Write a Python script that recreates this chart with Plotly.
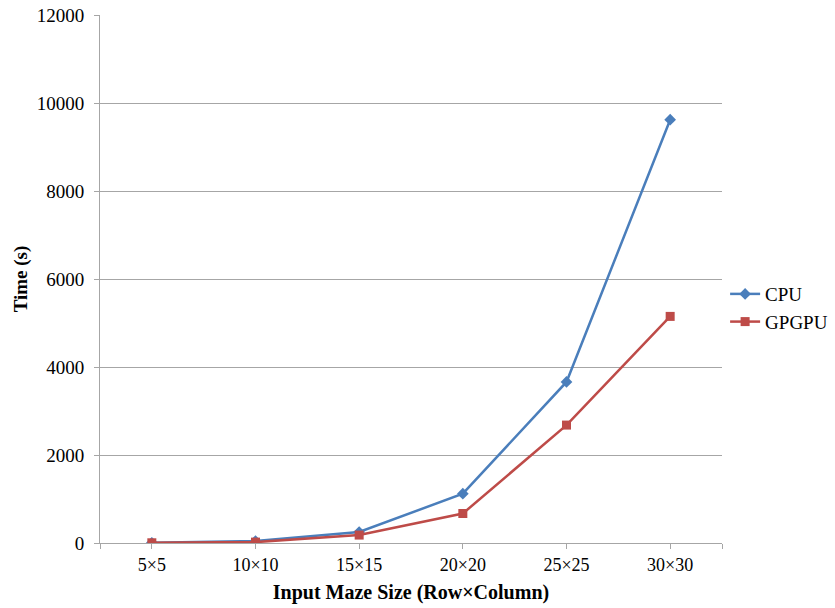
import plotly.graph_objects as go

categories = ["5×5", "10×10", "15×15", "20×20", "25×25", "30×30"]
cpu = [5, 45, 250, 1120, 3660, 9620]
gpgpu = [5, 20, 180, 670, 2680, 5150]
y_ticks = [0, 2000, 4000, 6000, 8000, 10000, 12000]

xpos = list(range(len(categories)))
font = "Liberation Serif, Times New Roman, serif"

fig = go.Figure()
fig.add_trace(go.Scatter(x=xpos, y=cpu, name="CPU", mode="lines+markers",
                         line=dict(color="#4A7EBB", width=2.5),
                         marker=dict(symbol="diamond", size=9, color="#4A7EBB")))
fig.add_trace(go.Scatter(x=xpos, y=gpgpu, name="GPGPU", mode="lines+markers",
                         line=dict(color="#BE4B48", width=2.5),
                         marker=dict(symbol="square", size=9, color="#BE4B48")))

fig.update_layout(
    width=835, height=608,
    margin=dict(l=100, r=113, t=15, b=65, autoexpand=False),
    paper_bgcolor="white", plot_bgcolor="white",
    font=dict(family=font, size=19, color="black"),
    showlegend=True,
    legend=dict(x=1.005, y=0.445, xanchor="left", yanchor="middle",
                font=dict(size=19, family=font), tracegroupgap=0,
                itemwidth=30, bgcolor="rgba(0,0,0,0)"),
    xaxis=dict(range=[-0.5, len(categories) - 0.5],
               tickvals=[-0.5] + xpos + [len(categories) - 0.5],
               ticktext=[""] + categories + [""],
               showgrid=False, zeroline=False, automargin=False,
               showline=True, linecolor="#A6A6A6", linewidth=1,
               ticks="outside", ticklen=5, tickcolor="#A6A6A6",
               tickfont=dict(size=18, family=font),
               title=dict(text="<b>Input Maze Size (Row×Column)</b>",
                          font=dict(size=20, family=font), standoff=11)),
    yaxis=dict(range=[0, 12000], tickvals=y_ticks, tickformat="d",
               showgrid=True, gridcolor="#A6A6A6", gridwidth=1,
               zeroline=False, showline=True, linecolor="#A6A6A6",
               automargin=False, ticklabelstandoff=6,
               ticks="outside", ticklen=5, tickcolor="#A6A6A6",
               tickfont=dict(size=19, family=font),
               title=dict(text="<b>Time (s)</b>",
                          font=dict(size=19, family=font), standoff=4)),
)

fig.write_html("out.html")
